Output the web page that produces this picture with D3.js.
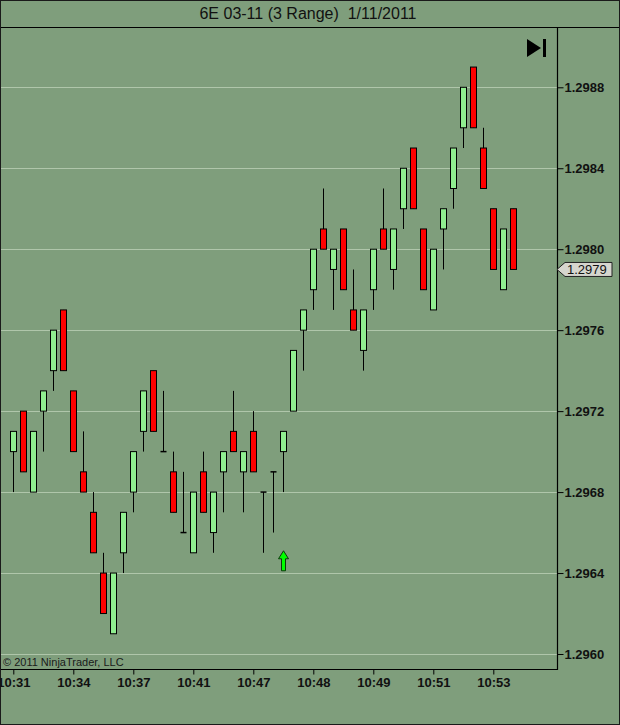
<!DOCTYPE html>
<html>
<head>
<meta charset="utf-8">
<script src="https://cdn.jsdelivr.net/npm/d3@7"></script>
<style>
  html, body { margin: 0; padding: 0; background: #7f9e7c; }
  svg { display: block; font-family: Arial, "Liberation Sans", sans-serif; }
</style>
</head>
<body>
<div id="chart"></div>
<script>
// 3-tick range bars, 6E 03-11
const opens  = [1.2970, 1.2972, 1.2968, 1.2972, 1.2974, 1.2977, 1.2973, 1.2969, 1.2967, 1.2964,
                1.2961, 1.2965, 1.2968, 1.2971, 1.2974, 1.2970, 1.2969, 1.2966, 1.2965, 1.2969,
                1.2966, 1.2969, 1.2971, 1.2969, 1.2971, 1.2968, 1.2969, 1.2970, 1.2972, 1.2976,
                1.2978, 1.2981, 1.2979, 1.2981, 1.2977, 1.2975, 1.2978, 1.2981, 1.2979, 1.2982,
                1.2985, 1.2981, 1.2977, 1.2981, 1.2983, 1.2986, 1.2989, 1.2985, 1.2982, 1.2978,
                1.2982];
const highs  = [1.2971, 1.2972, 1.2971, 1.2973, 1.2976, 1.2977, 1.2973, 1.2971, 1.2968, 1.2965,
                1.2964, 1.2967, 1.2970, 1.2973, 1.2974, 1.2973, 1.2970, 1.2969, 1.2968, 1.2970,
                1.2968, 1.2970, 1.2973, 1.2970, 1.2972, 1.2968, 1.2969, 1.2971, 1.2975, 1.2977,
                1.2980, 1.2983, 1.2980, 1.2981, 1.2979, 1.2977, 1.2980, 1.2983, 1.2981, 1.2984,
                1.2985, 1.2981, 1.2980, 1.2982, 1.2985, 1.2988, 1.2989, 1.2986, 1.2982, 1.2981,
                1.2982];
const lows   = [1.2968, 1.2969, 1.2968, 1.2970, 1.2973, 1.2974, 1.2970, 1.2968, 1.2965, 1.2962,
                1.2961, 1.2964, 1.2967, 1.2970, 1.2971, 1.2970, 1.2967, 1.2966, 1.2965, 1.2967,
                1.2965, 1.2967, 1.2970, 1.2967, 1.2969, 1.2965, 1.2966, 1.2968, 1.2972, 1.2974,
                1.2977, 1.2980, 1.2977, 1.2978, 1.2976, 1.2974, 1.2977, 1.2980, 1.2978, 1.2981,
                1.2982, 1.2978, 1.2977, 1.2979, 1.2982, 1.2985, 1.2986, 1.2983, 1.2979, 1.2978,
                1.2979];
const closes = [1.2971, 1.2969, 1.2971, 1.2973, 1.2976, 1.2974, 1.2970, 1.2968, 1.2965, 1.2962,
                1.2964, 1.2967, 1.2970, 1.2973, 1.2971, 1.2970, 1.2967, 1.2966, 1.2968, 1.2967,
                1.2968, 1.2970, 1.2970, 1.2970, 1.2969, 1.2968, 1.2969, 1.2971, 1.2975, 1.2977,
                1.2980, 1.2980, 1.2980, 1.2978, 1.2976, 1.2977, 1.2980, 1.2980, 1.2981, 1.2984,
                1.2982, 1.2978, 1.2980, 1.2982, 1.2985, 1.2988, 1.2986, 1.2983, 1.2979, 1.2981,
                1.2979];

const xTickIdx = [0, 6, 12, 18, 24, 30, 36, 42, 48];
const xLabels  = ["10:31", "10:34", "10:37", "10:41", "10:47", "10:48", "10:49", "10:51", "10:53"];
const yTicks   = [1.2960, 1.2964, 1.2968, 1.2972, 1.2976, 1.2980, 1.2984, 1.2988];

// long signal arrow (bar index, price of arrow tip)
const signalIdx   = [27];
const signalPrice = [1.29651];

const lastPrice = 1.2979;

const width = 620;
const height = 725;
const plot = { left: 1, top: 27, right: 557, bottom: 669 };

const bg = "#7f9e7c";
const gridColor = "#afc6aa";
const upColor = "#90ee90";
const downColor = "#ff0000";

const svg = d3.select("#chart")
  .append("svg")
  .attr("width", width)
  .attr("height", height);

svg.append("rect")
  .attr("width", width)
  .attr("height", height)
  .attr("fill", bg);

svg.append("text")
  .attr("x", 308)
  .attr("y", 19)
  .attr("text-anchor", "middle")
  .attr("font-size", "16px")
  .attr("fill", "#111")
  .style("white-space", "pre")
  .text("6E 03-11 (3 Range)  1/11/2011");

const x = d3.scaleLinear()
  .domain([0, opens.length - 1])
  .range([13.3, 13.3 + 10 * (opens.length - 1)]);

const y = d3.scaleLinear()
  .domain([1.2960, 1.2988])
  .range([654, 87.3]);

// gridlines
svg.append("g")
  .selectAll("line")
  .data(yTicks)
  .join("line")
  .attr("x1", plot.left)
  .attr("x2", plot.right)
  .attr("y1", d => Math.round(y(d)) + 0.5)
  .attr("y2", d => Math.round(y(d)) + 0.5)
  .attr("stroke", gridColor)
  .attr("stroke-width", 1);

const bars = d3.range(opens.length);
const bodyW = 6;

// wicks
svg.append("g")
  .selectAll("line")
  .data(bars)
  .join("line")
  .attr("x1", i => Math.round(x(i)) + 0.5)
  .attr("x2", i => Math.round(x(i)) + 0.5)
  .attr("y1", i => y(highs[i]))
  .attr("y2", i => y(lows[i]))
  .attr("stroke", "#000")
  .attr("stroke-width", 1);

// bodies
svg.append("g")
  .selectAll("rect")
  .data(bars.filter(i => opens[i] !== closes[i]))
  .join("rect")
  .attr("x", i => Math.round(x(i)) - bodyW / 2 + 0.5)
  .attr("y", i => y(Math.max(opens[i], closes[i])))
  .attr("width", bodyW)
  .attr("height", i => Math.abs(y(opens[i]) - y(closes[i])))
  .attr("fill", i => closes[i] > opens[i] ? upColor : downColor)
  .attr("stroke", "#000")
  .attr("stroke-width", 1);

// dojis
svg.append("g")
  .selectAll("line")
  .data(bars.filter(i => opens[i] === closes[i]))
  .join("line")
  .attr("x1", i => Math.round(x(i)) - bodyW / 2 + 0.5)
  .attr("x2", i => Math.round(x(i)) + bodyW / 2 + 0.5)
  .attr("y1", i => y(closes[i]))
  .attr("y2", i => y(closes[i]))
  .attr("stroke", "#000")
  .attr("stroke-width", 1.5);

// signal arrows
const arrow = d3.line();
svg.append("g")
  .selectAll("path")
  .data(signalIdx)
  .join("path")
  .attr("d", (i, k) => {
    const cx = Math.round(x(i)) + 0.5;
    const ty = y(signalPrice[k]);
    return arrow([
      [cx, ty], [cx + 5, ty + 8], [cx + 2, ty + 8], [cx + 2, ty + 20],
      [cx - 2, ty + 20], [cx - 2, ty + 8], [cx - 5, ty + 8]
    ]) + "Z";
  })
  .attr("fill", "#00ff00")
  .attr("stroke", "#0a3a0a")
  .attr("stroke-width", 1);

// plot frame
svg.append("path")
  .attr("d", `M${plot.left},${plot.top + 0.5}H${width - 1}M${plot.right + 0.5},${plot.top}V${plot.bottom + 0.5}H${plot.left}`)
  .attr("fill", "none")
  .attr("stroke", "#000")
  .attr("stroke-width", 1.2);

svg.append("rect")
  .attr("x", 0.5)
  .attr("y", 0.5)
  .attr("width", width - 1)
  .attr("height", height - 1)
  .attr("fill", "none")
  .attr("stroke", "#1a1a1a")
  .attr("stroke-width", 1);

// "go to last bar" button
svg.append("path")
  .attr("d", "M527,39L541,48L527,57Z")
  .attr("fill", "#000");
svg.append("rect")
  .attr("x", 543)
  .attr("y", 39)
  .attr("width", 3)
  .attr("height", 18)
  .attr("fill", "#000");

// y axis
const yAxis = svg.append("g")
  .attr("transform", `translate(${plot.right + 0.5},0)`)
  .call(d3.axisRight(y).tickValues(yTicks).tickSize(6).tickFormat(d3.format(".4f")));
yAxis.select(".domain").remove();
yAxis.selectAll(".tick line").attr("stroke", "#000");
yAxis.selectAll(".tick text")
  .attr("x", 7)
  .attr("font-size", "13px")
  .attr("font-weight", "bold")
  .attr("font-family", "Arial, 'Liberation Sans', sans-serif")
  .attr("fill", "#111");

// x axis
const xAxis = svg.append("g")
  .attr("transform", `translate(0,${plot.bottom + 0.5})`)
  .call(d3.axisBottom(x).tickValues(xTickIdx).tickSize(5).tickFormat((d, i) => xLabels[i]));
xAxis.select(".domain").remove();
xAxis.selectAll(".tick line").attr("stroke", "#000");
xAxis.selectAll(".tick text")
  .attr("y", 8)
  .attr("font-size", "13px")
  .attr("font-weight", "bold")
  .attr("font-family", "Arial, 'Liberation Sans', sans-serif")
  .attr("fill", "#111");

// last price marker
const ly = y(lastPrice);
const lp = svg.append("g");
lp.append("path")
  .attr("d", `M557,${ly}L565,${ly - 7}H612V${ly + 7}H565Z`)
  .attr("fill", "#d6d6ce")
  .attr("stroke", "#222")
  .attr("stroke-width", 1);
lp.append("text")
  .attr("x", 567)
  .attr("y", ly + 4.5)
  .attr("font-size", "13px")
  .attr("fill", "#111")
  .text(d3.format(".4f")(lastPrice));

svg.append("text")
  .attr("x", 3)
  .attr("y", 666)
  .attr("font-size", "11px")
  .attr("fill", "#1a1a1a")
  .text("© 2011 NinjaTrader, LLC");
</script>
</body>
</html>
